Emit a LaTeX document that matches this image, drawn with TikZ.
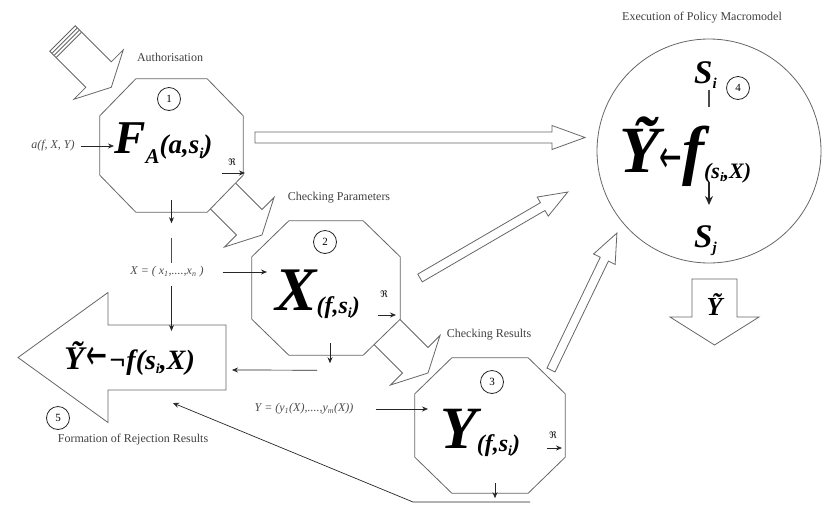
\documentclass[tikz,border=0pt]{standalone}
\usepackage{fontspec}
\usepackage{graphicx}
\setmainfont{Liberation Serif}
\newfontfamily\symfont{DejaVu Sans}
\usetikzlibrary{arrows.meta,calc,positioning}

\newcommand{\lowtext}[3]{\raisebox{-#2}{\fontsize{#1}{#1}\selectfont #3}}
\newcommand{\bigleft}[1]{{\symfont\mdseries\upshape\fontsize{#1}{#1}\selectfont\scalebox{1}[1.7]{←}}}
% hollow block arrow: start, angle, length, shaft half width, head half width, head length
\newcommand{\hollowarrow}[6]{%
  \draw[hollow, shift={(#1)}, rotate=#2] (0,-#4) -- ({#3-#6},-#4) -- ({#3-#6},-#5) -- (#3,0)
    -- ({#3-#6},#5) -- ({#3-#6},#4) -- (0,#4) -- cycle;}
% octagon round a step box: name, chamfer x, chamfer y
\newcommand{\octagon}[3]{%
  \draw[hollow] ($(#1.north west)+(#2,0)$) -- ($(#1.north east)+(-#2,0)$) -- ($(#1.north east)+(0,#3)$)
    -- ($(#1.south east)+(0,-#3)$) -- ($(#1.south east)+(-#2,0)$) -- ($(#1.south west)+(#2,0)$)
    -- ($(#1.south west)+(0,-#3)$) -- ($(#1.north west)+(0,#3)$) -- cycle;}

\tikzset{
  hollow/.style={draw=black!60, line width=0.8pt, fill=white, line join=miter},
  stepbox/.style={rectangle, inner sep=0pt},
  num/.style={circle, draw=black!85, line width=0.8pt, minimum size=23pt, inner sep=0pt,
    font=\fontsize{11}{11}\selectfont},
  lbl/.style={inner sep=0pt, text=black!75, font=\fontsize{12}{12}\selectfont},
  eqn/.style={inner sep=0pt, text=black!70, font=\fontsize{12}{12}\selectfont\itshape},
  big/.style={inner sep=0pt, font=\bfseries\itshape},
  rmark/.style={inner sep=0pt, font=\symfont\fontsize{9}{9}\selectfont},
  flow/.style={-{Stealth[length=6pt,width=5pt]}, line width=0.7pt, black!85},
  line/.style={line width=0.8pt, black!70}
}

\begin{document}
\begin{tikzpicture}[x=1pt, y=-1pt]
\useasboundingbox (0,0) rectangle (827,504);

% block arrows between the steps
\hollowarrow{62.5,38.5}{-45}{69}{18}{35}{18}
\draw[hollow, shift={(62.5,38.5)}, rotate=-45] (3,-18) -- (3,18) (6,-18) -- (6,18) (9,-18) -- (9,18);
\hollowarrow{213.2,186.2}{-45}{69}{18}{35}{18}
\hollowarrow{379.2,324.2}{-45}{69}{18}{35}{18}
\hollowarrow{255,137.5}{0}{330}{5.5}{12}{33}
\hollowarrow{420,278}{30.2}{171}{4.5}{11}{29}
\hollowarrow{551,370}{64.3}{152}{4.5}{12}{29}
\hollowarrow{714.5,279}{-90}{66}{22.5}{44.5}{28}
\hollowarrow{226,357.5}{180}{208}{32.5}{65}{90}

% steps
\node[stepbox, minimum width=143pt, minimum height=133pt] (oct1) at (171.5,145.5) {};
\octagon{oct1}{36}{37}
\node[stepbox, minimum width=148pt, minimum height=134pt] (oct2) at (326,288) {};
\octagon{oct2}{37}{36}
\node[stepbox, minimum width=150pt, minimum height=135pt] (oct3) at (490,425.5) {};
\octagon{oct3}{37}{36}
\node[circle, draw=black!60, line width=0.8pt, minimum size=224pt] (circ) at (709,151) {};

\node[num] (n1) at (169,99) {1};
\node[num] (n2) at (325,242) {2};
\node[num] (n3) at (492,382) {3};
\node[num] (n4) at (738,88) {4};
\node[num] (n5) at (58,418) {5};

% formulas
\node[big, anchor=base west] (fA) at (114,153) {{\fontsize{47}{47}\selectfont F}\lowtext{21pt}{10pt}{A}{\fontsize{27}{27}\selectfont(a,s\lowtext{15pt}{5pt}{i})}};
\node[big, anchor=base west] (Xn) at (275,310) {{\fontsize{62}{62}\selectfont X}\lowtext{24pt}{3pt}{(f,s\lowtext{14pt}{4pt}{i})}};
\node[big, anchor=base west] (Yn) at (440,448) {{\fontsize{60}{60}\selectfont Y}\lowtext{24pt}{3pt}{(f,s\lowtext{14pt}{4pt}{i})}};
\node[big, anchor=base west] (exec) at (619,172) {{\fontsize{66}{66}\selectfont Ỹ}\bigleft{27}{\fontsize{66}{66}\selectfont f}\lowtext{22pt}{6pt}{(s\lowtext{13pt}{3pt}{i},X)}};
\node[big, anchor=base west] (Si) at (694,83) {{\fontsize{33}{33}\selectfont S}\lowtext{15pt}{5pt}{i}};
\node[big, anchor=base west] (Sj) at (694,247) {{\fontsize{33}{33}\selectfont S}\lowtext{15pt}{5pt}{j}};
\node[big, anchor=base west] (rej) at (64,369) {{\fontsize{33}{33}\selectfont Ỹ}\,\bigleft{25} {\fontsize{28}{28}\selectfont ¬f(s\lowtext{14pt}{4pt}{i},X)}};
\node[big, font=\bfseries\itshape\fontsize{26}{26}\selectfont] (yout) at (714.5,305) {Ỹ};

\node[rmark] (r1) at (232,162) {ℜ};
\node[rmark] (r2) at (384,294) {ℜ};
\node[rmark] (r3) at (553,435) {ℜ};

% labels
\node[lbl] (auth) at (170,57) {Authorisation};
\node[lbl] (chkpar) at (339,198) {Checking Parameters};
\node[lbl] (chkres) at (489,335) {Checking Results};
\node[lbl] (execlbl) at (702,18) {Execution of Policy Macromodel};
\node[lbl] (rejlbl) at (133,440) {Formation of Rejection Results};
\node[eqn] (ain) at (53,146) {a(f, X, Y)};
\node[eqn] (xeq) at (167,272) {X = ( x\textsubscript{1},....,x\textsubscript{n} )};
\node[eqn] (yeq) at (304,409) {Y = (y\textsubscript{1}(X),....,y\textsubscript{m}(X))};

\coordinate (rejin) at (232,370);
\coordinate (rejback) at (173,403);
\coordinate (retR) at (530,502);
\coordinate (retL) at (413,502);

% connectors
\draw[flow] ([xshift=6pt]ain.east) -- (ain.east -| fA.west);
\draw[flow] ([xshift=-10pt,yshift=-11pt]r1.center) -- ([xshift=13pt,yshift=-11pt]r1.center);
\draw[flow] ([xshift=-6pt,yshift=-21pt]r2.center) -- ([xshift=12pt,yshift=-21pt]r2.center);
\draw[flow] ([xshift=-6pt,yshift=-13pt]r3.center) -- ([xshift=9pt,yshift=-13pt]r3.center);
\draw[flow] ([yshift=12pt]oct1.south) -- ([yshift=-11pt]oct1.south);
\draw[line] ([yshift=-26pt]oct1.south) -- ([yshift=3pt]oct1.south |- xeq.north);
\draw[flow] ([yshift=-8pt]oct1.south |- xeq.south) -- ([yshift=10pt]oct1.south |- rej.north);
\draw[flow] ([xshift=19pt]xeq.east) -- ([xshift=-8pt]xeq.east -| Xn.west);
\draw[flow] ([xshift=4pt,yshift=12pt]oct2.south) -- ([xshift=4pt,yshift=-8pt]oct2.south);
\draw[flow] ([xshift=-9pt,yshift=-15pt]oct2.south) -- (rejin);
\draw[flow] ([xshift=22pt]yeq.east) -- ([xshift=-12pt]yeq.east -| Yn.west);
\draw[flow] ([xshift=5pt,yshift=10pt]oct3.south) -- ([xshift=5pt,yshift=-5pt]oct3.south);
\draw[flow] (retR) -- (retL) -- (rejback);
\draw[line, line width=1.2pt] ([yshift=61pt]circ.center) -- ([yshift=44pt]circ.center);
\draw[flow, line width=1.3pt, -{Stealth[length=9pt,width=8pt]}] ([yshift=-31pt]circ.center) -- ([yshift=-54pt]circ.center);
\end{tikzpicture}
\end{document}
